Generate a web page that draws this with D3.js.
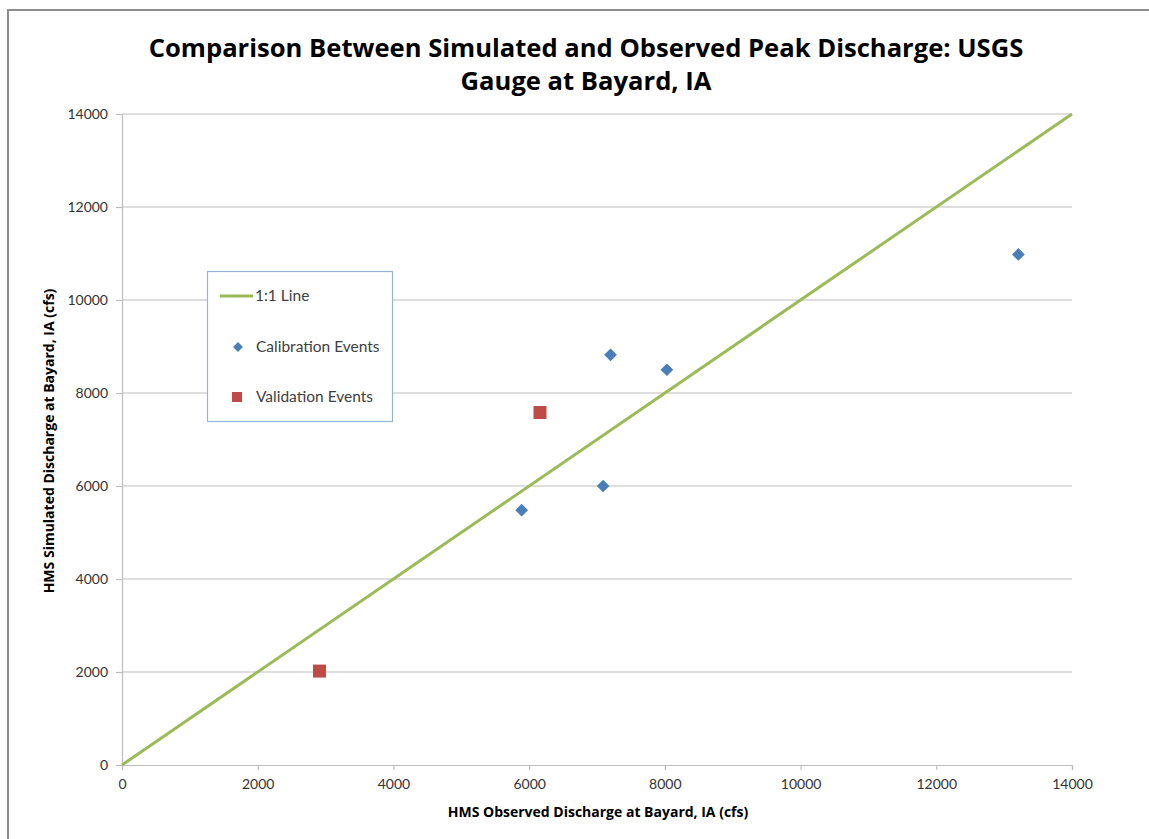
<!DOCTYPE html>
<html><head><meta charset="utf-8">
<script src="https://cdn.jsdelivr.net/npm/d3@7"></script>
<style>body{margin:0;background:#fff}svg{display:block}</style>
</head><body>
<script>
const xTicks = [0,2000,4000,6000,8000,10000,12000,14000];
const yTicks = [0,2000,4000,6000,8000,10000,12000,14000];
const oneToOne = [[0,0],[14000,14000]];
const calibration = [[5890,5480],[7090,6000],[7200,8820],[8030,8500],[13210,10980]];
const validation = [[2910,2020],[6160,7580]];

const W=1149,H=839;
const svg=d3.select("body").append("svg").attr("width",W).attr("height",H);
svg.append("rect").attr("x",0).attr("y",0).attr("width",W).attr("height",H).attr("fill","#fff");
svg.append("path").attr("d",`M8,${H}V10H${W}`).attr("fill","none").attr("stroke","#8c8c8c").attr("stroke-width",2);

const x=d3.scaleLinear().domain([0,14000]).range([122,1072]);
const y=d3.scaleLinear().domain([0,14000]).range([765,114]);
const font="Lato, 'Open Sans', sans-serif";

svg.append("g").selectAll("line").data(yTicks.filter(d=>d>0)).join("line")
 .attr("x1",x(0)).attr("x2",x(14000)).attr("y1",d=>y(d)).attr("y2",d=>y(d))
 .attr("stroke","#bdbdbd").attr("stroke-width",1.2);

const xAxis=svg.append("g").attr("transform",`translate(0,${y(0)})`)
 .call(d3.axisBottom(x).tickValues(xTicks).tickSize(5).tickPadding(9).tickFormat(d3.format("d")));
const yAxis=svg.append("g").attr("transform",`translate(${x(0)},0)`)
 .call(d3.axisLeft(y).tickValues(yTicks).tickSize(6).tickPadding(8).tickFormat(d3.format("d")));
[xAxis,yAxis].forEach(a=>{
 a.select(".domain").attr("stroke","#bdbdbd").attr("stroke-width",1.2);
 a.selectAll(".tick line").attr("stroke","#bdbdbd").attr("stroke-width",1.2);
 a.selectAll("text").attr("fill","#333").style("font-family",font).style("font-size","14px");
});

svg.append("path").datum(oneToOne)
 .attr("d",d3.line().x(d=>x(d[0])).y(d=>y(d[1])))
 .attr("stroke","#9bbb59").attr("stroke-width",3).attr("fill","none");

svg.append("g").selectAll("rect").data(calibration).join("rect")
 .attr("x",-4.5).attr("y",-4.5).attr("width",9).attr("height",9)
 .attr("transform",d=>`translate(${x(d[0])},${y(d[1])}) rotate(45)`)
 .attr("fill","#4a7ebb");
svg.append("g").selectAll("rect").data(validation).join("rect")
 .attr("x",d=>x(d[0])-6.5).attr("y",d=>y(d[1])-6.5).attr("width",13).attr("height",13)
 .attr("fill","#be4b48");

const title=svg.append("text").attr("text-anchor","middle").attr("fill","#000")
 .style("font-family","'Open Sans', sans-serif").style("font-weight","bold").style("font-size","25.6px");
title.append("tspan").attr("x",586).attr("y",57).text("Comparison Between Simulated and Observed Peak Discharge: USGS");
title.append("tspan").attr("x",586).attr("y",90).text("Gauge at Bayard, IA");

svg.append("text").attr("x",598).attr("y",817).attr("text-anchor","middle")
 .style("font-family","'Open Sans', sans-serif").style("font-weight","bold").style("font-size","14px")
 .text("HMS Observed Discharge at Bayard, IA (cfs)");
svg.append("text").attr("transform","translate(54,441) rotate(-90)").attr("text-anchor","middle")
 .style("font-family","'Open Sans', sans-serif").style("font-weight","bold").style("font-size","14px")
 .text("HMS Simulated Discharge at Bayard, IA (cfs)");

const lg=svg.append("g");
lg.append("rect").attr("x",207.5).attr("y",271.5).attr("width",185).attr("height",150)
 .attr("fill","#fff").attr("stroke","#95b3d7").attr("stroke-width",1.2);
lg.append("line").attr("x1",220).attr("x2",253).attr("y1",296).attr("y2",296).attr("stroke","#9bbb59").attr("stroke-width",3);
lg.append("rect").attr("x",-3.5).attr("y",-3.5).attr("width",7).attr("height",7)
 .attr("transform","translate(238,347) rotate(45)").attr("fill","#4a7ebb");
lg.append("rect").attr("x",232).attr("y",392).attr("width",10).attr("height",10).attr("fill","#be4b48");
const items=[["1:1 Line",296],["Calibration Events",347],["Validation Events",397]];
lg.selectAll("text.li").data(items).join("text").attr("class","li")
 .attr("x",d=>d[0]==="1:1 Line"?255:256).attr("y",d=>d[1]+5)
 .style("font-family",font).style("font-size","15.5px").attr("fill","#404040").text(d=>d[0]);
</script>
</body></html>
